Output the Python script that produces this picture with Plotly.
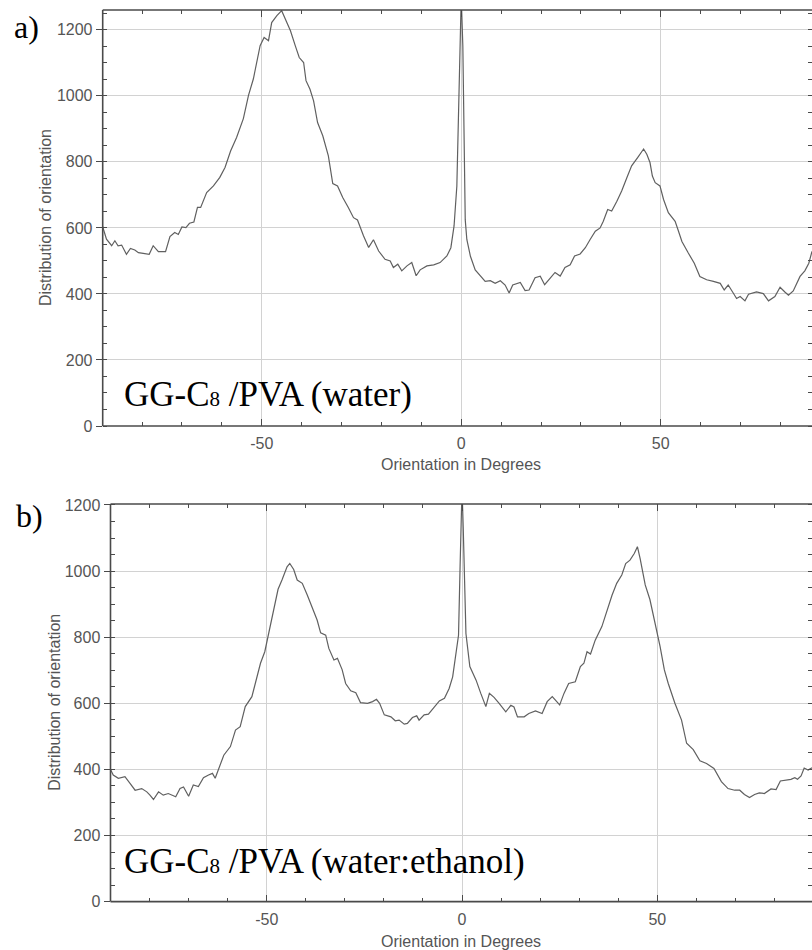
import plotly.graph_objects as go

# ---------------- data ----------------
top_deg = [-89.9, -88.9, -87.6, -86.8, -86.0, -85.1, -83.9, -82.9, -81.8, -80.9, -79.7, -78.2,
           -77.2, -75.9, -74.1, -73.0, -71.8, -70.9, -70.0, -69.0, -68.1, -67.0, -66.1, -65.3,
           -63.8, -62.1, -60.5, -59.2, -57.8, -56.3, -54.6, -53.3, -52.1, -51.3, -50.4, -49.4,
           -48.3, -47.5, -46.2, -45.0, -43.9, -42.8, -41.6, -40.6, -39.5, -38.9, -37.9, -37.0,
           -36.0, -34.7, -33.3, -32.2, -31.0, -29.7, -28.3, -27.0, -26.0, -24.5, -23.2, -22.0,
           -20.7, -19.1, -17.8, -17.0, -15.9, -14.9, -13.6, -12.4, -11.3, -10.3, -8.6, -6.9,
           -5.3, -3.6, -2.6, -1.8, -1.1, -0.7, -0.4, 0.0, 0.4, 0.7, 1.0, 1.4, 2.3, 3.5, 4.8,
           6.0, 7.3, 8.5, 9.8, 11.0, 12.0, 12.9, 14.8, 16.0, 17.0, 18.5, 19.8, 20.9, 22.3, 23.5,
           24.8, 26.0, 27.3, 28.4, 29.8, 31.1, 32.3, 33.6, 34.8, 35.6, 36.7, 37.7, 39.0, 40.2,
           41.5, 42.7, 44.2, 45.7, 46.5, 47.3, 47.9, 48.6, 49.8, 50.7, 51.9, 53.6, 54.3, 55.3,
           56.9, 58.4, 59.8, 61.5, 63.2, 64.9, 65.9, 66.9, 68.2, 69.0, 69.9, 71.1, 72.0, 74.0,
           75.7, 77.0, 78.6, 79.9, 81.1, 82.0, 83.2, 84.9, 86.1, 87.1, 87.9]
top_val = [605, 566, 546, 561, 546, 548, 520, 538, 533, 525, 523, 520,
           546, 528, 528, 574, 586, 580, 603, 601, 614, 618, 662, 662,
           707, 727, 753, 783, 833, 874, 931, 1002, 1051, 1096, 1152, 1177,
           1167, 1222, 1243, 1258, 1227, 1197, 1152, 1116, 1101, 1046, 1020, 985,
           919, 879, 818, 734, 727, 692, 662, 631, 624, 576, 541, 564,
           530, 505, 500, 480, 490, 470, 485, 495, 455, 473, 485, 488,
           495, 515, 540, 606, 727, 950, 1141, 1300, 1150, 800, 625, 565, 514, 473, 453,
           438, 440, 432, 440, 427, 403, 427, 435, 410, 412, 449, 454, 428, 448, 465,
           454, 480, 488, 515, 521, 540, 565, 590, 600, 620, 656, 651, 681, 712,
           752, 788, 813, 839, 823, 798, 757, 737, 727, 686, 646, 620, 595, 559,
           524, 493, 453, 443, 438, 432, 412, 427, 402, 386, 392, 379, 399, 406,
           401, 379, 392, 420, 406, 396, 409, 453, 470, 493, 529]

bot_deg = [-90.0, -89.3, -88.0, -86.3, -85.0, -83.7, -82.0, -80.7, -79.9, -79.0, -77.7, -76.5,
           -75.2, -74.3, -73.3, -72.2, -71.3, -70.0, -68.8, -67.5, -66.2, -64.9, -63.9, -63.2,
           -61.9, -61.0, -59.3, -58.0, -56.8, -55.5, -53.8, -52.5, -51.6, -50.5, -49.5, -48.2,
           -47.1, -46.1, -44.8, -44.1, -43.1, -42.2, -40.9, -39.6, -38.4, -37.1, -36.2, -34.9,
           -34.1, -32.8, -31.9, -30.7, -29.8, -28.5, -27.2, -26.0, -24.2, -22.9, -21.9, -21.1,
           -19.9, -18.2, -17.1, -16.1, -14.8, -14.0, -12.7, -11.6, -11.0, -9.7, -8.6, -7.1,
           -5.8, -4.5, -3.3, -2.4, -1.5, -0.9, -0.5, -0.3, 0.0, 0.3, 0.6, 1.0, 2.0, 3.6, 4.8,
           6.1, 7.0, 8.2, 9.5, 11.2, 12.5, 13.3, 14.2, 15.9, 17.1, 18.8, 20.5, 21.8, 23.1,
           25.0, 26.1, 27.3, 29.0, 30.3, 31.2, 32.0, 32.9, 34.1, 35.8, 37.1, 38.4, 39.6, 40.9,
           41.9, 43.0, 44.1, 44.9, 45.6, 46.9, 48.1, 49.4, 50.7, 51.8, 52.8, 54.5, 56.2, 57.5,
           59.2, 60.9, 62.6, 64.5, 66.4, 68.1, 69.8, 71.1, 72.3, 73.6, 74.9, 76.1, 77.4, 79.1,
           80.4, 81.5, 82.9, 84.2, 85.2, 85.9, 86.8, 87.6, 88.6, 89.6]
bot_val = [400, 383, 373, 378, 358, 337, 342, 332, 322, 309, 332, 322,
           327, 322, 317, 342, 347, 319, 353, 348, 375, 383, 388, 373,
           418, 443, 469, 519, 529, 590, 620, 680, 721, 756, 811, 882,
           945, 973, 1013, 1023, 1005, 973, 963, 927, 892, 852, 813, 806,
           766, 731, 736, 702, 660, 638, 632, 602, 600, 605, 612, 600,
           565, 559, 547, 549, 537, 539, 557, 562, 549, 565, 567, 590,
           607, 615, 645, 680, 751, 806, 1013, 1134, 1250, 1134, 1008, 811, 711, 670, 630,
           590, 630, 618, 600, 574, 594, 589, 559, 559, 569, 577, 569, 605, 620,
           595, 630, 660, 665, 711, 721, 756, 749, 791, 832, 882, 927, 963, 988,
           1023, 1033, 1053, 1074, 1038, 958, 914, 843, 772, 701, 660, 600, 549, 479,
           460, 426, 418, 403, 363, 342, 337, 337, 324, 315, 324, 329, 327, 341,
           339, 365, 367, 370, 375, 370, 380, 404, 398, 405]

y_tick_vals = [0, 200, 400, 600, 800, 1000, 1200]
x_tick_vals = [-50, 0, 50]
x_tick_text = ["-50", "0", "50"]
panel_labels = ["a)", "b)"]
sample_names = ["GG-C<span style='font-size:21px'>8</span> /PVA (water)",
                "GG-C<span style='font-size:21px'>8</span> /PVA (water:ethanol)"]
x_title = "Orientation in Degrees"
y_title = "Distribution of orientation"

# ---------------- layout helpers ----------------
W, H = 812, 950


def fx(p):
    return p / W


def fy(p):
    return 1 - p / H


LINE = "#606060"
AX = "#4a4a4a"
GRID = "#d2d2d2"
TXT = "#555555"
SANS = "Liberation Sans, Arial, sans-serif"
SERIF = "Liberation Serif, Times New Roman, serif"

fig = go.Figure()
fig.add_trace(go.Scatter(x=top_deg, y=top_val, mode="lines", xaxis="x", yaxis="y",
                         line=dict(color=LINE, width=1.2), showlegend=False))
fig.add_trace(go.Scatter(x=bot_deg, y=bot_val, mode="lines", xaxis="x2", yaxis="y2",
                         line=dict(color=LINE, width=1.2), showlegend=False))


def xaxis(domain, rng, anchor):
    return dict(domain=domain, range=rng, anchor=anchor, automargin=False,
                tickmode="array", tickvals=x_tick_vals, ticktext=x_tick_text,
                showline=False, mirror="ticks",
                showgrid=True, gridcolor=GRID, gridwidth=1, zeroline=False,
                ticks="inside", ticklen=7, tickcolor=AX, tickwidth=1.2,
                ticklabelstandoff=6,
                minor=dict(tick0=0, dtick=10, ticks="inside", ticklen=4, tickcolor=AX,
                           tickwidth=1.2, showgrid=False),
                tickfont=dict(family=SANS, size=16, color=TXT))


def yaxis(domain, rng, anchor):
    return dict(domain=domain, range=rng, anchor=anchor, automargin=False,
                tickvals=y_tick_vals,
                showline=False, mirror="ticks",
                showgrid=True, gridcolor=GRID, gridwidth=1, zeroline=False,
                ticks="outside", ticklen=6, tickcolor=AX, tickwidth=1.2,
                minor=dict(tick0=0, dtick=50, ticks="inside", ticklen=4, tickcolor=AX,
                           tickwidth=1.2, showgrid=False),
                tickfont=dict(family=SANS, size=16, color=TXT))


top_y0, top_y1 = 10, 426
bot_y0, bot_y1 = 504, 901.6
top_x0, bot_x0 = 102.7, 110.5

fig.update_layout(
    width=W, height=H, autosize=False,
    margin=dict(l=0, r=0, t=0, b=0, pad=0, autoexpand=False),
    paper_bgcolor="white", plot_bgcolor="white",
    xaxis=xaxis([fx(top_x0), 1.0], [-89.85, 87.9], "y"),
    yaxis=yaxis([fy(top_y1), fy(top_y0)], [0, 1260], "x"),
    xaxis2=xaxis([fx(bot_x0), 1.0], [-90, 89.6], "y2"),
    yaxis2=yaxis([fy(bot_y1), fy(bot_y0)], [0, 1203], "x2"),
)

# frame lines (left, bottom, top); the right frame edge is cropped in the reference
shapes = []
for x0, y0, y1 in [(top_x0, top_y0, top_y1), (bot_x0, bot_y0, bot_y1)]:
    for seg in [(fx(x0), fy(y0), fx(x0), fy(y1)),
                (fx(x0), fy(y0), 1.0, fy(y0)),
                (fx(x0), fy(y1), 1.0, fy(y1))]:
        shapes.append(dict(type="line", xref="paper", yref="paper",
                           x0=seg[0], y0=seg[1], x1=seg[2], y1=seg[3],
                           line=dict(color=AX, width=1.6), layer="above"))
fig.update_layout(shapes=shapes)

ann = []
# axis titles
ann.append(dict(text=x_title, x=fx(461), y=fy(465), xref="paper", yref="paper",
                showarrow=False, xanchor="center", yanchor="middle",
                font=dict(family=SANS, size=16, color=TXT)))
ann.append(dict(text=x_title, x=fx(461), y=fy(941.5), xref="paper", yref="paper",
                showarrow=False, xanchor="center", yanchor="middle",
                font=dict(family=SANS, size=16, color=TXT)))
ann.append(dict(text=y_title, x=fx(46), y=fy((top_y0 + top_y1) / 2), xref="paper", yref="paper",
                showarrow=False, xanchor="center", yanchor="middle", textangle=-90,
                font=dict(family=SANS, size=16, color=TXT)))
ann.append(dict(text=y_title, x=fx(55), y=fy((bot_y0 + bot_y1) / 2), xref="paper", yref="paper",
                showarrow=False, xanchor="center", yanchor="middle", textangle=-90,
                font=dict(family=SANS, size=16, color=TXT)))
# panel letters
ann.append(dict(text=panel_labels[0], x=fx(12), y=fy(27), xref="paper", yref="paper",
                showarrow=False, xanchor="left", yanchor="middle",
                font=dict(family=SERIF, size=32, color="black")))
ann.append(dict(text=panel_labels[1], x=fx(14), y=fy(516), xref="paper", yref="paper",
                showarrow=False, xanchor="left", yanchor="middle",
                font=dict(family=SERIF, size=32, color="black")))
# sample names
ann.append(dict(text=sample_names[0], x=fx(122), y=fy(394), xref="paper", yref="paper",
                showarrow=False, xanchor="left", yanchor="middle",
                font=dict(family=SERIF, size=35, color="black")))
ann.append(dict(text=sample_names[1], x=fx(122), y=fy(861), xref="paper", yref="paper",
                showarrow=False, xanchor="left", yanchor="middle",
                font=dict(family=SERIF, size=35, color="black")))
fig.update_layout(annotations=ann)

fig.write_html("out.html", config={"displayModeBar": False},
               post_script="document.body.style.margin='0';document.body.style.overflow='hidden';")
